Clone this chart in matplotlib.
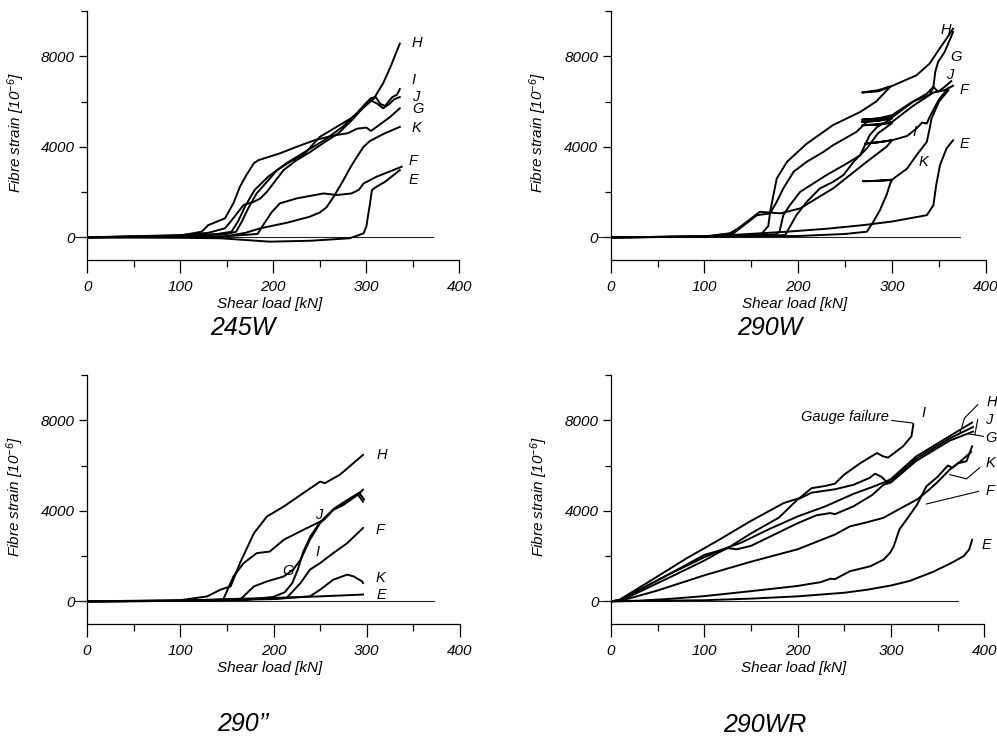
import numpy as np
import matplotlib
matplotlib.use('Agg')
import matplotlib.pyplot as plt
from matplotlib.ticker import FixedLocator

plt.rcParams['font.family'] = ['Liberation Sans', 'DejaVu Sans']
plt.rcParams['font.style'] = 'italic'
plt.rcParams['mathtext.fontset'] = 'custom'
plt.rcParams['mathtext.it'] = 'Liberation Sans:italic'
plt.rcParams['mathtext.rm'] = 'Liberation Sans:italic'

# strain gauge readings, (shear load kN, fibre strain 1e-6)
# --- 245W
w245_H = [(0,0),(100,60),(150,150),(160,250),(166,690),(173,1280),(182,1940),(193,2450),(204,2970),(218,3340),
          (232,3630),(250,4440),(268,4880),(286,5320),(300,5840),(308,6130),(318,6800),(326,7530),(336,8560)]
w245_I = [(0,0),(100,50),(140,150),(155,250),(162,700),(170,1400),(180,2100),(195,2700),(215,3300),(235,3800),
          (255,4300),(275,4900),(290,5500),(300,5950),(305,6150),(310,6200),(315,5900),(320,5800),(328,6200),
          (333,6300),(336,6550)]
w245_J = [(0,0),(100,100),(130,200),(148,400),(154,690),(168,1430),(179,1570),(186,1720),(193,2010),(200,2380),
          (211,2970),(225,3410),(240,3780),(255,4200),(270,4600),(285,5200),(298,5800),(305,6050),(312,5900),
          (318,5700),(325,5900),(330,6100),(336,6200)]
w245_G = [(0,0),(100,80),(123,250),(130,540),(148,840),(157,1500),(164,2230),(171,2750),(179,3270),(184,3410),
          (207,3710),(225,4000),(245,4300),(265,4500),(280,4600),(290,4800),(300,4850),(305,4700),(315,5000),
          (325,5300),(336,5700)]
w245_K = [(0,0),(100,30),(146,30),(170,200),(186,400),(215,650),(239,910),(250,1100),(257,1320),(265,1800),
          (275,2500),(283,3100),(290,3560),(297,4000),(304,4260),(311,4410),(320,4600),(336,4880)]
w245_F = [(0,0),(100,20),(150,50),(183,150),(190,600),(198,1100),(207,1500),(225,1720),(254,1940),(268,1870),
          (284,1940),(292,2100),(297,2380),(311,2680),(338,3120)]
w245_E = [(0,0),(100,-20),(143,-40),(196,-190),(240,-150),(282,-40),(292,100),(297,180),(300,470),(302,1000),
          (304,1500),(306,2090),(311,2240),(320,2450),(336,2970)]

# --- 290W (unload/reload loops at 300 kN)
w290_H = [(0,0),(100,40),(160,120),(168,500),(170,1130),(177,2600),(188,3340),(209,4140),(237,4960),(266,5540),
          (283,6000),(298,6650),(285,6450),(268,6400),(285,6500),(300,6690),(326,7160),(340,7680),(350,8300),
          (358,8780),(365,9220)]
w290_G = [(0,0),(100,40),(175,120),(180,250),(184,980),(191,1420),(202,2010),(230,2750),(252,3270),(266,3630),
          (276,4510),(284,4880),(300,5250),(285,5150),(268,5100),(285,5150),(300,5300),(322,5980),(337,6350),
          (344,6650),(346,7310),(349,7750),(356,8190),(365,9070)]
w290_J = [(0,0),(100,40),(131,180),(156,980),(170,1060),(177,1570),(184,2160),(195,2900),(209,3340),(227,3780),
          (237,4070),(262,4660),(273,5100),(300,5350),(285,5250),(268,5200),(285,5250),(300,5400),(322,6000),
          (340,6300),(344,6650),(349,6430),(356,6650),(363,6900)]
w290_F = [(0,0),(100,40),(186,100),(198,980),(209,1570),(223,2160),(237,2450),(248,2750),(259,3340),(273,3930),
          (285,4600),(300,5050),(285,4980),(268,4950),(285,5000),(300,5100),(322,5800),(344,6400),(356,6500),
          (365,6700)]
w290_I = [(0,0),(100,30),(127,180),(136,400),(159,1130),(181,1060),(202,1280),(237,2160),(273,3340),(294,4000),
          (300,4290),(285,4200),(271,4140),(285,4200),(300,4290),(316,4480),(326,4810),(332,5070),(337,5030),
          (340,5320),(350,6100),(360,6600)]
w290_K = [(0,0),(200,60),(250,150),(273,250),(280,690),(287,1200),(294,1870),(298,2380),(300,2530),(285,2500),
          (269,2480),(285,2500),(300,2550),(316,3040),(326,3630),(337,4220),(340,4810),(342,5250),(350,6000),
          (360,6500)]
w290_E = [(0,0),(100,30),(188,250),(230,380),(269,540),(300,700),(337,980),(344,1420),(347,2310),(351,3190),
          (358,3930),(365,4290)]

# --- 290''
w290d_H = [(0,0),(100,50),(129,220),(143,515),(154,660),(164,1690),(179,3010),(193,3750),(211,4190),(229,4700),
           (250,5290),(255,5220),(271,5590),(296,6470)]
w290d_J = [(0,0),(100,30),(146,75),(157,1100),(168,1690),(182,2130),(196,2200),(211,2720),(232,3160),(254,3600),
           (264,4040),(275,4260),(290,4700),(296,4930)]
w290d_G = [(0,0),(100,20),(164,70),(179,660),(193,880),(211,1100),(221,1400),(229,1840),(239,2720),(250,3460),
           (264,4040),(282,4490),(292,4800),(297,4500)]
w290d_I = [(0,0),(100,20),(170,60),(200,200),(212,400),(220,800),(226,1400),(232,2200),(240,2900),(250,3500),
           (265,4100),(280,4500),(290,4750),(296,4400)]
w290d_F = [(0,0),(100,20),(200,120),(214,150),(229,810),(239,1400),(250,1690),(264,2130),(279,2570),(296,3240)]
w290d_K = [(0,0),(100,20),(200,100),(239,220),(250,515),(264,955),(279,1180),(286,1100),(295,880),(296,810)]
w290d_E = [(0,0),(100,30),(150,100),(200,150),(250,220),(296,300)]

# --- 290WR
w290r_I = [(0,0),(8,40),(42,900),(81,1900),(113,2650),(149,3530),(185,4340),(202,4560),(215,5000),(230,5100),
           (240,5200),(250,5600),(267,6100),(285,6550),(292,6400),(297,6350),(313,6850),(322,7290),(324,7810)]
w290r_H = [(0,0),(10,60),(60,1150),(100,2050),(125,2350),(150,3000),(180,3700),(200,4500),(215,4800),(240,4950),
           (260,5150),(277,5450),(283,5640),(290,5500),(295,5300),(300,5400),(327,6400),(363,7300),(387,7900)]
w290r_J = [(0,0),(10,60),(60,1150),(100,1950),(120,2300),(140,2600),(170,3200),(200,3750),(230,4200),(260,4750),
           (280,5050),(292,5250),(300,5300),(327,6300),(363,7200),(388,7700)]
w290r_G = [(0,0),(12,60),(60,1000),(100,1800),(115,2150),(125,2350),(135,2300),(150,2450),(180,3050),(200,3450),
           (220,3800),(235,3900),(240,3850),(260,4200),(280,4700),(292,5150),(300,5250),(327,6200),(363,7100),(388,7500)]
w290r_F = [(0,0),(12,40),(50,480),(100,1150),(150,1750),(200,2300),(240,2950),(256,3310),(275,3500),(292,3690),
           (310,4100),(328,4500),(340,4900),(349,5230),(363,5820),(375,6200),(386,6600)]
w290r_K = [(0,0),(30,30),(60,100),(100,230),(150,450),(200,680),(225,850),(235,1000),(240,980),(256,1330),
           (278,1550),(292,1840),(299,2140),(303,2430),(309,3170),(320,3800),(328,4270),(338,5080),(350,5500),
           (361,6000),(366,5900),(372,6100),(381,6190),(387,6850)]
w290r_E = [(0,0),(100,50),(150,120),(200,220),(250,380),(274,510),(300,700),(320,900),(345,1300),(365,1700),
           (378,2000),(384,2300),(387,2720)]

titles = ['245W', '290W', '290\u2019\u2019', '290WR']
curves = [[w245_H, w245_I, w245_J, w245_G, w245_K, w245_F, w245_E],
          [w290_H, w290_G, w290_J, w290_F, w290_I, w290_K, w290_E],
          [w290d_H, w290d_J, w290d_G, w290d_I, w290d_F, w290d_K, w290d_E],
          [w290r_I, w290r_H, w290r_J, w290r_G, w290r_F, w290r_K, w290r_E]]

# curve labels (letter, load, strain)
labels = [[('H',349,8590),('I',349,6940),('J',349,6200),('G',349,5650),('K',349,4840),('F',345,3380),('E',345,2530)],
          [('H',352,9180),('G',362,7970),('J',358,7160),('F',372,6500),('I',322,4660),('K',328,3340),('E',372,4120)],
          [('H',311,6470),('J',245,3800),('F',309,3160),('I',245,2200),('G',209,1320),('K',309,1030),('E',311,290)],
          [('I',333,8330),('H',402,8800),('J',401,8030),('G',401,7220),('K',401,6090),('F',401,4860),('E',397,2500)]]

# leader lines in 290WR panel
leaders = [[(374,7440),(379,8100),(393,8690)],
           [(390,7370),(393,8030)],
           [(383,7400),(399,7290)],
           [(363,5600),(381,5410),(395,5900)],
           [(338,4300),(394,4860)],
           [(301,7990),(323,7880),(324,7840)]]

fig = plt.figure(figsize=(9.97, 7.38), dpi=100)
positions = [[0.0876, 0.6477, 0.3731, 0.3374],
             [0.6125, 0.6477, 0.3764, 0.3374],
             [0.0873, 0.1545, 0.3741, 0.3374],
             [0.6128, 0.1545, 0.3744, 0.3374]]
title_pos = [(243, 328), (770, 328), (243, 724), (765, 725)]

for k in range(4):
    ax = fig.add_axes(positions[k])
    ax.set_xlim(0, 400)
    ax.set_ylim(-1000, 10000)
    ax.spines['top'].set_visible(False)
    ax.spines['right'].set_visible(False)
    ax.spines['left'].set_linewidth(0.9)
    ax.spines['bottom'].set_linewidth(0.9)
    ax.xaxis.set_major_locator(FixedLocator([0,100,200,300,400]))
    ax.xaxis.set_minor_locator(FixedLocator([50,150,250,350]))
    ax.yaxis.set_major_locator(FixedLocator([0,4000,8000]))
    ax.yaxis.set_minor_locator(FixedLocator([2000,6000,10000]))
    ax.tick_params(axis='x', which='major', length=9.5, width=0.9, pad=5, labelsize=11)
    ax.tick_params(axis='x', which='minor', length=5, width=0.9)
    ax.tick_params(axis='y', which='major', length=6, width=0.9, pad=3, labelsize=11)
    ax.tick_params(axis='y', which='minor', length=4.5, width=0.9)

    # zero line
    ax.plot([-14, 372], [0, 0], color='#222222', lw=0.8, clip_on=False)

    for c in curves[k]:
        xy = np.array(c, dtype=float)
        ax.plot(xy[:, 0], xy[:, 1], color='black', lw=1.4)

    for name, x, y in labels[k]:
        ax.text(x, y, name, fontsize=10.5, ha='left', va='center', clip_on=False)

    ax.set_xlabel('Shear load [kN]', fontsize=11)
    ax.set_ylabel('Fibre strain [10$^{-6}$]', fontsize=11)
    ax.xaxis.set_label_coords(0.49, -0.15)
    ax.yaxis.set_label_coords(-0.163, 0.51)

    if k == 3:
        for seg in leaders:
            s = np.array(seg, dtype=float)
            ax.plot(s[:, 0], s[:, 1], color='black', lw=0.8, clip_on=False)
        ax.text(298, 8160, 'Gauge failure', fontsize=10.5, ha='right', va='center')

    fig.text(title_pos[k][0] / 997, 1 - title_pos[k][1] / 738, titles[k], fontsize=18,
             ha='center', va='center')

fig.savefig('out.png', dpi=100)
